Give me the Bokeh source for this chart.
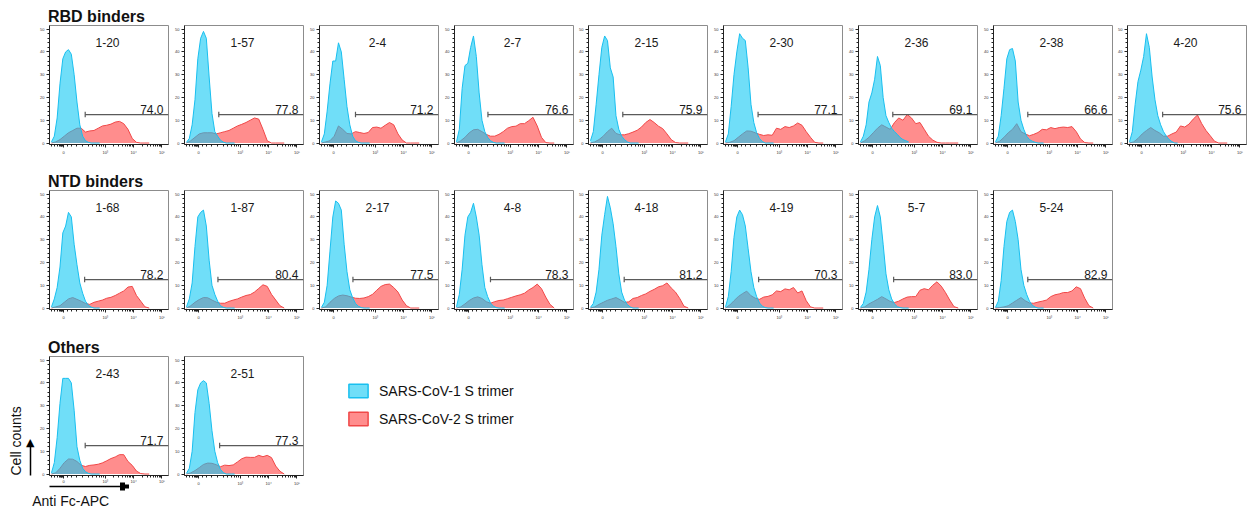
import math
from bokeh.plotting import figure
from bokeh.layouts import row, column
from bokeh.models import (Range1d, FixedTicker, Legend, LegendItem, LinearAxis, Title)
from bokeh.core.properties import value
from bokeh.embed import file_html
from bokeh.resources import INLINE

# ---------------- data ----------------
# x positions are in display units of the biexponential axis
# (0 sits at 1.53, 10^3 at 3, 10^4 at 4, 10^5 at 5); y = cell counts
BLUE_X = [1.1, 1.2, 1.3, 1.4, 1.5, 1.6, 1.7, 1.8, 1.9, 2.0, 2.1, 2.2, 2.3, 2.4, 2.5, 2.6, 2.7, 2.8]
RED_X = [1.1, 1.25, 1.4, 1.55, 1.7, 1.85, 2.0, 2.15, 2.3, 2.45, 2.6, 2.75, 2.9, 3.05,
         3.2, 3.35, 3.5, 3.65, 3.8, 3.95, 4.1, 4.25, 4.4, 4.55]
X_TICKS = [1.53, 3, 4, 5]
X_TICK_LABELS = ["0", "10³", "10⁴", "10⁵"]
Y_TICKS = [0, 10, 20, 30, 40, 50]

GROUPS = ["RBD binders", "NTD binders", "Others"]
CLONES_RBD = ["1-20", "1-57", "2-4", "2-7", "2-15", "2-30", "2-36", "2-38", "4-20"]
CLONES_NTD = ["1-68", "1-87", "2-17", "4-8", "4-18", "4-19", "5-7", "5-24"]
CLONES_OTHERS = ["2-43", "2-51"]

PCT_RBD = ["74.0", "77.8", "71.2", "76.6", "75.9", "77.1", "69.1", "66.6", "75.6"]
PCT_NTD = ["78.2", "80.4", "77.5", "78.3", "81.2", "70.3", "83.0", "82.9"]
PCT_OTHERS = ["71.7", "77.3"]

GATE_RBD = [2.29, 2.24, 2.30, 2.21, 2.24, 2.25, 2.24, 2.24, 2.27]
GATE_NTD = [2.27, 2.21, 2.21, 2.30, 2.29, 2.27, 2.27, 2.24]
GATE_OTHERS = [2.29, 2.27]
GATE_LEVEL = 12.5

# SARS-CoV-1 S trimer (blue) histograms
COV1_RBD = {
    "1-20": [0.5, 3, 11, 26, 37, 40, 41, 39, 30, 18, 8, 3, 1, 0.3, 0, 0, 0, 0],
    "1-57": [0.3, 2, 8, 19, 37, 46, 49, 46, 29, 13, 5, 3, 1.2, 0.4, 0, 0, 0, 0],
    "2-4": [0.5, 4, 14, 26, 36, 36, 44, 40, 28, 16, 8, 3, 1, 0.3, 0, 0, 0, 0],
    "2-7": [0.5, 6, 24, 34, 35, 42, 47, 38, 22, 10, 5, 2.5, 1, 0.3, 0, 0, 0, 0],
    "2-15": [1, 5, 17, 30, 42, 47, 45, 33, 29, 12, 6, 3, 1.5, 0.5, 0, 0, 0, 0],
    "2-30": [0.5, 4, 16, 30, 40, 48, 46, 45, 33, 17, 9, 4.5, 2, 0.7, 0, 0, 0, 0],
    "2-36": [0.5, 3, 8, 18, 22, 28, 38, 34, 20, 12, 9, 6.5, 5, 3.8, 2.4, 1.5, 1, 0.5],
    "2-38": [0.5, 3, 12, 24, 37, 41, 41.5, 36, 18, 10, 6, 3, 1.5, 0.8, 0.3, 0, 0, 0],
    "4-20": [0.5, 5, 17, 27, 32, 38, 48, 42, 29, 19, 12, 8, 5, 3, 1.5, 0.6, 0, 0],
}
COV1_NTD = {
    "1-68": [0.5, 4, 9, 18, 33, 36, 42, 40, 28, 19, 11, 6.5, 3, 1.2, 0.4, 0, 0, 0],
    "1-87": [0.5, 4, 11, 27, 40, 42, 43, 36, 21, 10, 6, 3, 1, 0.3, 0, 0, 0, 0],
    "2-17": [0.3, 2.5, 10, 25, 40, 47, 46, 43, 28, 16, 8, 4.5, 2, 0.8, 0.2, 0, 0, 0],
    "4-8": [0.5, 6, 17, 32, 40, 42, 46, 40, 32, 19, 9, 5, 2.2, 0.8, 0.2, 0, 0, 0],
    "4-18": [0.3, 2, 7, 17, 32, 41, 49, 44, 37, 27, 15, 7, 3.5, 1.5, 0.5, 0, 0, 0],
    "4-19": [0.5, 5, 16, 31, 40, 43, 41, 36, 26, 16, 9, 5, 2.2, 0.8, 0.2, 0, 0, 0],
    "5-7": [0.3, 2, 7, 17, 30, 40, 45, 40, 28, 15, 8, 4, 1.8, 0.6, 0.2, 0, 0, 0],
    "5-24": [0.3, 3, 12, 27, 38, 42, 43, 38, 30, 17, 10, 6, 3, 1.2, 0.4, 0, 0, 0],
}
COV1_OTHERS = {
    "2-43": [0.5, 5, 16, 31, 42, 42, 42, 40, 28, 12, 6, 2.5, 1, 0.3, 0, 0, 0, 0],
    "2-51": [0.3, 2.5, 10, 27, 37, 40, 41, 40, 31, 19, 10, 5, 2, 0.6, 0, 0, 0, 0],
}

# SARS-CoV-2 S trimer (red) histograms
COV2_RBD = {
    "1-20": [0, 0.5, 1.5, 3, 4.5, 5.5, 6.5, 6.5, 4.8, 5.3, 5.5, 6.5, 7.5, 7.8, 8.3, 9.2, 9.5, 8.5, 6, 2, 0.3, 0, 0, 0],
    "1-57": [0, 1, 2.5, 4, 4.5, 4.5, 4.5, 4, 4.5, 5, 5.5, 6.5, 7.5, 8.2, 9, 10, 11, 10.5, 6, 1, 0, 0, 0, 0],
    "2-4": [0, 0.5, 1, 3, 7.5, 6, 4.2, 4, 5, 4.6, 4.2, 4.6, 6.8, 7, 6.5, 7.8, 9, 8, 4, 1.3, 0, 0, 0, 0],
    "2-7": [0, 1, 2.5, 4.5, 5.8, 6, 5, 3.8, 3, 3, 3.8, 5, 6.5, 7.2, 7.4, 8.5, 8.5, 9.8, 11.3, 7.5, 2.5, 0.2, 0, 0],
    "2-15": [0, 0.5, 1.5, 3, 5, 6.5, 4.2, 3.6, 3.6, 4.1, 4.8, 5.6, 7, 9, 10.3, 9, 7.4, 6.3, 4, 1.5, 0.2, 0, 0, 0],
    "2-30": [0, 0.3, 1, 2.5, 4, 5.3, 5.2, 4.5, 3.8, 3.3, 3.6, 3.4, 6.5, 6, 7.2, 6.8, 7.5, 8.8, 7.8, 5, 2.5, 0.3, 0, 0],
    "2-36": [0, 1, 2.5, 4.5, 6.5, 8, 7, 6, 9, 11, 10, 12.5, 11, 8.5, 9, 6, 3, 1.3, 0.3, 0, 0, 0, 0, 0],
    "2-38": [0, 0.8, 2.5, 4.5, 6, 8.5, 5, 4, 3.2, 3.8, 4.6, 6, 5.8, 6.8, 6.3, 6.8, 7, 6.8, 7.2, 5, 1.8, 0.2, 0, 0],
    "4-20": [0, 0.5, 2, 4, 5.5, 6.8, 5.5, 4.5, 3, 3, 4, 4.8, 7.5, 7, 8.3, 10.5, 12.3, 8.5, 5.5, 3.2, 0.8, 0, 0, 0],
}
COV2_NTD = {
    "1-68": [0, 0.5, 1, 2.5, 4, 4.6, 3.8, 3, 2, 1.6, 2.5, 3, 3.5, 4.3, 4.7, 5.5, 6.5, 7.5, 9.2, 9.5, 5.5, 3, 0.5, 0],
    "1-87": [0, 1, 2.5, 3.7, 4.6, 4.5, 3.5, 2.6, 2.1, 2.1, 2.9, 3.5, 4, 4.8, 5.5, 5.9, 7, 8.6, 10.2, 9.5, 6, 3.5, 1, 0],
    "2-17": [0, 0.5, 2.5, 4.2, 5.3, 5.7, 5.4, 4.8, 4.3, 4.2, 4.4, 5, 6, 7.8, 9.5, 10.3, 10.5, 9, 7, 3.5, 1, 0, 0, 0],
    "4-8": [0, 0.5, 1.8, 3.3, 4.4, 4.9, 4.2, 2.8, 2.1, 2.8, 3.3, 3.5, 4.1, 4.7, 5.3, 5.8, 6.5, 7.9, 9, 10.5, 8.5, 4.8, 1.6, 0],
    "4-18": [0, 0.5, 1.6, 2.5, 3.4, 4, 4.6, 3.6, 2.5, 2.7, 4.2, 4.6, 5.5, 6.2, 7.3, 8.2, 9.3, 9.8, 11, 8.8, 7, 4.2, 0.8, 0],
    "4-19": [0, 1.3, 3.2, 5, 6.3, 7.4, 5.4, 4.3, 3.8, 4.8, 5.1, 5.8, 7.5, 7.2, 8.4, 8, 9, 6.6, 7.5, 3.2, 0.5, 0, 0, 0],
    "5-7": [0, 0.5, 1.8, 2.8, 3.8, 5, 4, 2.9, 2.4, 3, 4, 4.8, 5, 5, 7.8, 8.5, 8, 10, 11.5, 9.6, 6.8, 3.5, 0.6, 0],
    "5-24": [0, 0.2, 0.5, 1, 2.2, 3.4, 4.6, 3.2, 2.2, 2.1, 2.6, 3, 3.5, 5, 5.8, 6.2, 6.8, 6.8, 7.5, 9.3, 8.5, 4.3, 1, 0],
}
COV2_OTHERS = {
    "2-43": [0, 0.5, 2.5, 5, 6.6, 6.5, 5.5, 3.8, 3.3, 3.8, 4, 4.3, 4.9, 5.8, 6.8, 7.5, 8.5, 8.5, 5.5, 3.8, 1.3, 0.2, 0, 0],
    "2-51": [0, 0.5, 1.5, 2.8, 4.2, 4.8, 4.7, 4.1, 3.2, 3.9, 3.7, 4, 5.3, 6.7, 7.4, 7.3, 7.3, 8.2, 7.6, 8.2, 7.2, 3.5, 1.2, 0],
}

LEGEND_LABELS = ["SARS-CoV-1 S trimer", "SARS-CoV-2 S trimer"]

# ---------------- styling / layout ----------------
FONT = "Liberation Sans"
BLUE_FILL, BLUE_ALPHA, BLUE_LINE = "#10c8f4", 0.6, "#19bfef"
RED_FILL, RED_ALPHA, RED_LINE = "#ff7070", 0.8, "#f04848"
X_LO, X_HI = 1.03, 5.23
Y_LO, Y_HI = -0.65, 51.6
FW, FH = 119, 119
PX_X = FW / (X_HI - X_LO)
PX_Y = FH / (Y_HI - Y_LO)

FRAME_LEFTS = [round(49.3 + 134.75 * i) for i in range(9)]
ROW_TOP = [25, 26, 26]
ROW_BOTTOM = [20, 21, 34]

X_MINOR = [1.1, 1.2, 1.3, 1.38, 1.41, 1.44, 1.47, 1.5, 1.65, 1.8, 2.0, 2.2, 2.4, 2.55, 2.68,
           2.78, 2.86, 2.93] + [d + math.log10(k) for d in (3, 4) for k in range(2, 10)]
Y_MINOR = [v for v in range(0, 52, 2) if v % 10]


def make_panel(name, pct, gate, blue, red, left_border, top, bottom):
    p = figure(frame_width=FW, frame_height=FH, x_range=Range1d(X_LO, X_HI),
               y_range=Range1d(Y_LO, Y_HI), output_backend="svg", toolbar_location=None,
               min_border_left=left_border, min_border_right=1,
               min_border_top=top, min_border_bottom=bottom)
    p.xgrid.visible = False
    p.ygrid.visible = False
    p.outline_line_color = "#8c8c8c"
    p.outline_line_width = 1
    p.background_fill_color = "white"
    p.border_fill_color = "white"

    p.xaxis.ticker = FixedTicker(ticks=X_TICKS, minor_ticks=X_MINOR)
    p.xaxis.major_label_overrides = {t: s for t, s in zip(X_TICKS, X_TICK_LABELS)}
    p.yaxis.ticker = FixedTicker(ticks=Y_TICKS, minor_ticks=Y_MINOR)
    for ax in (p.xaxis[0], p.yaxis[0]):
        ax.axis_line_color = "#222222"
        ax.major_tick_line_color = "#222222"
        ax.minor_tick_line_color = "#222222"
        ax.major_tick_in = 0
        ax.major_tick_out = 3
        ax.minor_tick_in = 0
        ax.minor_tick_out = 2
        ax.major_label_text_font_size = "4px"
        ax.major_label_text_font = FONT
        ax.major_label_text_color = "#333333"
        ax.major_label_standoff = 2

    p.varea(x=RED_X, y1=0, y2=red, fill_color=RED_FILL, fill_alpha=RED_ALPHA)
    p.line(x=RED_X, y=red, line_color=RED_LINE, line_width=1)
    p.varea(x=BLUE_X, y1=0, y2=blue, fill_color=BLUE_FILL, fill_alpha=BLUE_ALPHA)
    p.line(x=BLUE_X, y=blue, line_color=BLUE_LINE, line_width=1)

    # gate
    p.segment(x0=[gate], y0=[GATE_LEVEL], x1=[X_HI], y1=[GATE_LEVEL],
              line_color="#5a5a5a", line_width=1.2)
    p.segment(x0=[gate], y0=[GATE_LEVEL - 1.2], x1=[gate], y1=[GATE_LEVEL + 1.2],
              line_color="#5a5a5a", line_width=1.2)
    p.text(x=[X_HI - 5 / PX_X], y=[GATE_LEVEL + 5 / PX_Y], text=[pct], text_align="right",
           text_baseline="alphabetic", text_font=value(FONT), text_font_size="12px",
           text_color="#1a1a1a")
    p.text(x=[(X_LO + X_HI) / 2 - 1.5 / PX_X], y=[44], text=[name], text_align="center",
           text_baseline="middle", text_font=value(FONT), text_font_size="12px",
           text_color="#1a1a1a")
    return p


groups = [
    (CLONES_RBD, PCT_RBD, GATE_RBD, COV1_RBD, COV2_RBD),
    (CLONES_NTD, PCT_NTD, GATE_NTD, COV1_NTD, COV2_NTD),
    (CLONES_OTHERS, PCT_OTHERS, GATE_OTHERS, COV1_OTHERS, COV2_OTHERS),
]

rows = []
for gi, (clones, pcts, gates, cov1, cov2) in enumerate(groups):
    figs = []
    prev_right = 0
    for i, name in enumerate(clones):
        left_border = FRAME_LEFTS[i] - prev_right
        p = make_panel(name, pcts[i], gates[i], cov1[name], cov2[name], left_border,
                       ROW_TOP[gi], ROW_BOTTOM[gi])
        prev_right = FRAME_LEFTS[i] + FW + 1
        figs.append(p)
    t = figs[0].title
    t.text = GROUPS[gi]
    t.align = "left"
    t.offset = -1.5
    t.standoff = 2
    t.text_font = FONT
    t.text_font_size = "16px"
    t.text_font_style = "bold"
    t.text_color = "#111111"
    rows.append((figs, prev_right))

# ---------- "Cell counts" / "Anti Fc-APC" direction arrows on the first "Others" panel ----------
p0 = rows[2][0][0]
yax = p0.yaxis[0]
yax.axis_label = " "
yax.axis_label_text_font_size = "3px"
yax.axis_label_standoff = 0
p0.xaxis[0].major_label_standoff = 0


def px_to_x(px):
    return X_LO + (px - FRAME_LEFTS[0]) / PX_X


shaft_x = px_to_x(31.7)
head_y = Y_LO + 33.5 / PX_Y    # centre of the upward arrow head

# vertical shaft with an upward head
up_axis = LinearAxis(ticker=FixedTicker(ticks=[head_y]), major_label_overrides={head_y: "▲"},
                     bounds=(Y_LO - 12.5 / PX_Y, Y_LO + 30 / PX_Y),
                     axis_line_color="black", axis_line_width=1.5,
                     major_tick_in=0, major_tick_out=0,
                     minor_tick_in=0, minor_tick_out=0, major_label_standoff=-4,
                     major_label_text_font="DejaVu Sans", major_label_text_font_size="11px",
                     major_label_text_color="black")
p0.add_layout(up_axis, "left")

# horizontal shaft; the rightward head is built from stacked ticks
head_major = [px_to_x(v + 0.5) for v in range(119, 124)]
head_minor = [px_to_x(v + 0.5) for v in range(124, 128)]
right_axis = LinearAxis(ticker=FixedTicker(ticks=head_major, minor_ticks=head_minor),
                        bounds=(shaft_x, px_to_x(127)),
                        major_label_overrides={t: "" for t in head_major},
                        axis_line_color="black", axis_line_width=1.5,
                        major_tick_in=4, major_tick_out=4, minor_tick_in=2, minor_tick_out=2,
                        major_tick_line_color="black", minor_tick_line_color="black",
                        major_tick_line_width=1, minor_tick_line_width=1,
                        major_label_standoff=0, major_label_text_font_size="1px")
p0.add_layout(right_axis, "below")

p0.add_layout(Title(text="Cell counts", align="left", text_font=FONT, text_font_size="14px",
                    text_font_style="normal", text_color="#111111", standoff=0), "left")
p0.add_layout(Title(text="Anti Fc-APC", align="left", offset=-17.3, text_font=FONT,
                    text_font_size="14px", text_font_style="normal", text_color="#111111",
                    standoff=0), "below")

# ---------- legend figure ----------
others_figs, others_right = rows[2]
lg = figure(frame_width=230, frame_height=FH, x_range=Range1d(0, 1), y_range=Range1d(0, 1),
            output_backend="svg", toolbar_location=None, x_axis_type=None, y_axis_type=None,
            min_border_left=320 - others_right, min_border_right=0,
            min_border_top=ROW_TOP[2], min_border_bottom=ROW_BOTTOM[2])
lg.outline_line_color = None
lg.xgrid.visible = False
lg.ygrid.visible = False
# swatch renderers: their data lie outside the visible range, only the legend shows them
r1 = lg.quad(left=[2], right=[3], top=[3], bottom=[2], fill_color=BLUE_FILL,
             fill_alpha=BLUE_ALPHA, line_color=BLUE_LINE, line_width=1.5)
r2 = lg.quad(left=[2], right=[3], top=[3], bottom=[2], fill_color=RED_FILL,
             fill_alpha=RED_ALPHA, line_color=RED_LINE, line_width=1.5)
legend = Legend(items=[LegendItem(label=LEGEND_LABELS[0], renderers=[r1]),
                       LegendItem(label=LEGEND_LABELS[1], renderers=[r2])],
                location="top_left", margin=26, padding=0, spacing=11,
                glyph_width=24, glyph_height=17, label_height=17, label_standoff=9,
                label_text_font=FONT, label_text_font_size="14px", label_text_color="#111111",
                border_line_alpha=0, background_fill_alpha=0)
lg.add_layout(legend)

layout = column(row(*rows[0][0]), row(*rows[1][0]), row(*others_figs, lg))

open("out.html", "w").write(file_html(layout, INLINE))
